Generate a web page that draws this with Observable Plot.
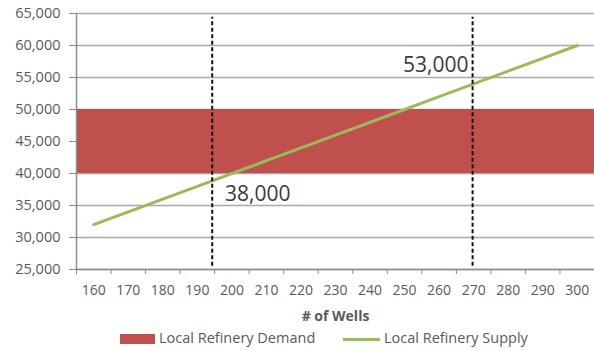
<!DOCTYPE html>
<html>
<head>
<meta charset="utf-8">
<script src="https://cdn.jsdelivr.net/npm/d3@7"></script>
<script src="https://cdn.jsdelivr.net/npm/@observablehq/plot@0.6"></script>
<style>
  html, body { margin: 0; padding: 0; background: #fff; }
  #chart { width: 594px; }
  .legend { display: flex; align-items: center; height: 25px; font-family: "Open Sans", sans-serif; font-size: 14.5px; color: #595959; position: relative; }
  .legend span.sw { display: inline-block; }
</style>
</head>
<body>
<div id="chart"></div>
<script>
// Data
const wells = [160, 170, 180, 190, 200, 210, 220, 230, 240, 250, 260, 270, 280, 290, 300];
const supply = [32000, 34000, 36000, 38000, 40000, 42000, 44000, 46000, 48000, 50000, 52000, 54000, 56000, 58000, 60000];
const demandLow = 40000;
const demandHigh = 50000;
const markerWells = [194.3, 269.7];
const annotationTexts = ["38,000", "53,000"];
const annotationX = [198, 268.5];
const annotationY = [36700, 56900];
const yTicks = [25000, 30000, 35000, 40000, 45000, 50000, 55000, 60000, 65000];
const xBoundaries = [155, 165, 175, 185, 195, 205, 215, 225, 235, 245, 255, 265, 275, 285, 295, 305];

const supplyData = wells.map((w, i) => ({w, v: supply[i]}));
const annotations = annotationTexts.map((t, i) => ({t, x: annotationX[i], y: annotationY[i]}));

const red = "#C0504D";
const green = "#9BBB59";
const grey = "#595959";

const chart = Plot.plot({
  width: 594,
  height: 326,
  marginLeft: 76,
  marginRight: 0,
  marginTop: 13,
  marginBottom: 57,
  style: {fontFamily: "'Open Sans', sans-serif", background: "#fff"},
  x: {domain: [155, 305]},
  y: {domain: [25000, 65000]},
  marks: [
    Plot.gridY(yTicks, {stroke: "#a8a8a8", strokeOpacity: 1, strokeWidth: 1.3}),
    Plot.rect([{x1: 155, x2: 305, y1: demandLow, y2: demandHigh}], {x1: "x1", x2: "x2", y1: "y1", y2: "y2", fill: red}),
    Plot.ruleY([25000], {stroke: "#8c8c8c", strokeWidth: 1.5}),
    Plot.ruleX([155], {stroke: "#8c8c8c", strokeWidth: 1.5}),
    Plot.axisY({ticks: yTicks, tickFormat: d3.format(","), tickSize: 7, tickPadding: 9, stroke: "#8c8c8c", fill: grey, fontSize: 14.5, label: null}),
    Plot.axisX({ticks: xBoundaries, tickFormat: () => "", tickSize: 5, stroke: "#8c8c8c", label: null}),
    Plot.axisX({ticks: wells, tickFormat: d => String(d), tickSize: 0, tickPadding: 16, fill: grey, fontSize: 14, label: null}),
    Plot.line(supplyData, {x: "w", y: "v", stroke: green, strokeWidth: 3}),
    Plot.ruleX(markerWells, {y1: 25500, y2: 64400, stroke: "#111", strokeWidth: 2, strokeDasharray: "4,2.5"}),
    Plot.text([annotations[0]], {x: "x", y: "y", text: "t", textAnchor: "start", fontSize: 21, fill: "#3a3a3a"}),
    Plot.text([annotations[1]], {x: "x", y: "y", text: "t", textAnchor: "end", fontSize: 21, fill: "#3a3a3a"}),
    Plot.text(["# of Wells"], {frameAnchor: "bottom", dy: 51, fontWeight: "bold", fontSize: 14, fill: grey})
  ]
});
document.getElementById("chart").appendChild(chart);

const legend = document.createElement("div");
legend.className = "legend";
legend.innerHTML = `
  <span class="sw" style="position:absolute;left:120px;top:8px;width:35px;height:10px;background:${red}"></span>
  <span style="position:absolute;left:159px;top:2px;">Local Refinery Demand</span>
  <span class="sw" style="position:absolute;left:343px;top:12px;width:37px;height:3px;background:${green}"></span>
  <span style="position:absolute;left:384px;top:2px;">Local Refinery Supply</span>`;
document.getElementById("chart").appendChild(legend);
</script>
</body>
</html>
